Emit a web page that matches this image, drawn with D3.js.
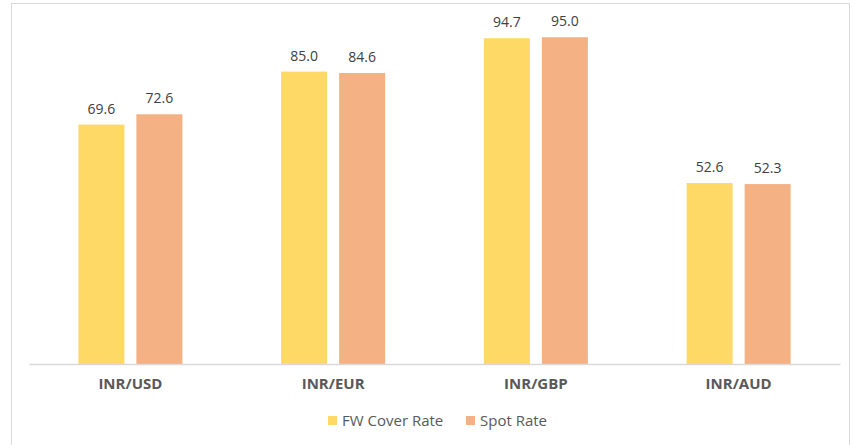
<!DOCTYPE html>
<html>
<head>
<meta charset="utf-8">
<script src="https://cdn.jsdelivr.net/npm/d3@7"></script>
<style>
  body { margin: 0; background: #fff; }
  svg { display: block; font-family: 'Open Sans', sans-serif; }
</style>
</head>
<body>
<div class="chart"></div>
<script>
const categories = ['INR/USD', 'INR/EUR', 'INR/GBP', 'INR/AUD'];
const seriesNames = ['FW Cover Rate', 'Spot Rate'];
const fwCover = [69.6, 85.0, 94.7, 52.6];
const spotRate = [72.6, 84.6, 95.0, 52.3];
const colors = ['#ffd966', '#f4b183'];

const W = 856, H = 445;
const plot = { left: 29, right: 840, top: 20, bottom: 364 };

const svg = d3.select('.chart').append('svg').attr('width', W).attr('height', H);

// outer frame (bottom edge sits below the window)
svg.append('rect')
    .attr('x', 11.5).attr('y', 3.5)
    .attr('width', 838).attr('height', 460)
    .attr('fill', 'none').attr('stroke', '#d9d9d9');

const x = d3.scaleBand().domain(categories).range([plot.left, plot.right]);
const y = d3.scaleLinear().domain([0, 100]).range([plot.bottom, plot.top]);

const barW = 46, gap = 12;
const rows = categories.map(function (c, i) {
    return [fwCover[i], spotRate[i]].map(function (v, s) {
        return { cat: c, s: s, v: v };
    });
}).flat();

const barX = function (d) {
    const center = x(d.cat) + x.bandwidth() / 2;
    return d.s === 0 ? center - gap / 2 - barW : center + gap / 2;
};

svg.append('g').selectAll('rect').data(rows).enter().append('rect')
    .attr('x', barX)
    .attr('y', function (d) { return y(d.v); })
    .attr('width', barW)
    .attr('height', function (d) { return y(0) - y(d.v); })
    .attr('fill', function (d) { return colors[d.s]; });

svg.append('g').selectAll('text').data(rows).enter().append('text')
    .attr('x', function (d) { return barX(d) + barW / 2; })
    .attr('y', function (d) { return y(d.v) - 11; })
    .attr('text-anchor', 'middle')
    .attr('font-size', 14)
    .attr('fill', '#404040')
    .text(function (d) { return d3.format('.1f')(d.v); });

// category axis
const xAxis = d3.axisBottom(x).tickSize(0).tickPadding(14);
svg.append('g')
    .attr('transform', 'translate(0,' + plot.bottom + ')')
    .call(xAxis)
    .call(function (g) {
        g.select('.domain').attr('stroke', '#d9d9d9').attr('stroke-width', 1.5);
        g.selectAll('text')
            .attr('font-family', "'Open Sans', sans-serif")
            .attr('font-size', 15)
            .attr('font-weight', 'bold')
            .attr('fill', '#595959');
    });

// legend
const legendPos = [328, 466];
const legend = svg.append('g').selectAll('g').data(seriesNames).enter().append('g')
    .attr('transform', function (d, i) { return 'translate(' + legendPos[i] + ',416)'; });
legend.append('rect').attr('width', 9).attr('height', 9)
    .attr('fill', function (d, i) { return colors[i]; });
legend.append('text').attr('x', 14).attr('y', 10)
    .attr('font-size', 15).attr('fill', '#595959')
    .text(function (d) { return d; });
</script>
</body>
</html>
